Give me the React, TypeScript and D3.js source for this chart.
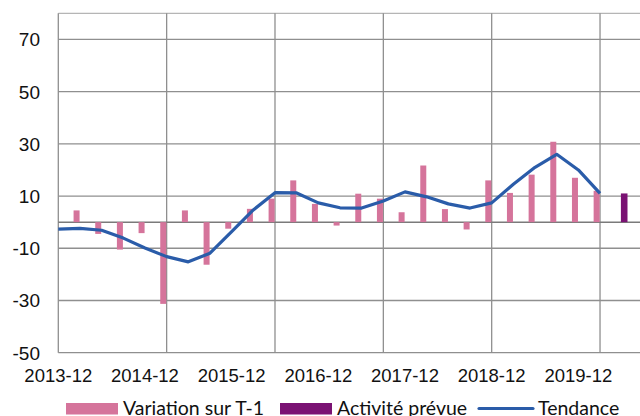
import React from "react";
import * as d3 from "d3";

const categories = [
  "2013-12", "2014-03", "2014-06", "2014-09", "2014-12", "2015-03", "2015-06", "2015-09", "2015-12", "2016-03",
  "2016-06", "2016-09", "2016-12", "2017-03", "2017-06", "2017-09", "2017-12", "2018-03", "2018-06", "2018-09",
  "2018-12", "2019-03", "2019-06", "2019-09", "2019-12", "2020-03", "2020-06",
];
const variation: (number | null)[] = [
  null, 4.5, -4.5, -10.5, -4.2, -31.3, 4.5, -16.3, -2.5, 5.1,
  9, 16, 7, -1.3, 10.9, 9, 3.8, 21.7, 5, -2.8,
  16, 11.2, 18.2, 30.8, 17, 12, null,
];
const activite: (number | null)[] = [
  null, null, null, null, null, null, null, null, null, null,
  null, null, null, null, null, null, null, null, null, null,
  null, null, null, null, null, null, 11,
];
const tendance: (number | null)[] = [
  -2.7, -2.4, -3.1, -6.1, -9.9, -13.2, -15.2, -11.9, -3.6, 4.7,
  11.3, 11.2, 7.4, 5.5, 5.4, 8.1, 11.6, 9.7, 7, 5.4,
  7.4, 14.5, 21, 26, 20, 11, null,
];
const tickLabels = ["2013-12", "2014-12", "2015-12", "2016-12", "2017-12", "2018-12", "2019-12"];
const yTicks = [70, 50, 30, 10, -10, -30, -50];
const legendNames = ["Variation sur T-1", "Activité prévue", "Tendance"];

const PINK = "#d5749b";
const PURPLE = "#7a1273";
const BLUE = "#2a5ca9";
const GRID = "#8f8f8f";
const FONT = "'Liberation Sans', Arial, sans-serif";
const LFONT = "Lato, 'Liberation Sans', sans-serif";

export default function App() {
  const W = 640, H = 416;
  const left = 58.3, top = 13.3, bottom = 352.7;
  const idx = categories.map((_, i) => i);
  const x = d3.scaleLinear().domain([0, 26]).range([58.3, 621.7]);
  const y = d3.scaleLinear().domain([-50, 80]).range([bottom, top]);
  const line = d3
    .line<number>()
    .defined((i) => tendance[i] != null)
    .x((i) => x(i))
    .y((i) => y(tendance[i] as number));

  const gridVals = [80, 70, 50, 30, 10, -10, -30, -50];
  // vertical gridlines every 5 categories (extending past right edge)
  const vGrid = [0, 5, 10, 15, 20, 25, 30];

  return (
    <svg width={W} height={H} style={{ position: "absolute", left: 0, top: 0, background: "#fff" }}>
      {gridVals.map((v) => (
        <line key={"h" + v} x1={left} x2={W} y1={y(v)} y2={y(v)} stroke={v === 80 ? "#b5b5b5" : GRID} strokeWidth={1.3} />
      ))}
      {vGrid.map((i) => (
        <line key={"v" + i} x1={x(i)} x2={x(i)} y1={top} y2={bottom} stroke={GRID} strokeWidth={1.3} />
      ))}
      <line x1={left} x2={W} y1={y(0)} y2={y(0)} stroke="#7a7a7a" strokeWidth={1.5} />
      {idx.map((i) =>
        variation[i] == null ? null : (
          <rect
            key={"b" + i}
            x={x(i) - 6.4}
            width={6}
            y={Math.min(y(0), y(variation[i] as number))}
            height={Math.abs(y(variation[i] as number) - y(0))}
            fill={PINK}
          />
        )
      )}
      {idx.map((i) =>
        activite[i] == null ? null : (
          <rect
            key={"a" + i}
            x={x(i) - 0.8}
            width={6.6}
            y={Math.min(y(0), y(activite[i] as number))}
            height={Math.abs(y(activite[i] as number) - y(0))}
            fill={PURPLE}
          />
        )
      )}
      <path d={line(idx) || ""} fill="none" stroke={BLUE} strokeWidth={3.2} strokeLinejoin="round" />
      {yTicks.map((v) => (
        <text key={"yt" + v} x={40} y={y(v) + 7} textAnchor="end" fontFamily={FONT} fontSize={19} fill="#111">
          {v}
        </text>
      ))}
      {tickLabels.map((t) => (
        <text key={"xt" + t} x={x(categories.indexOf(t))} y={381.5} textAnchor="middle" fontFamily={FONT} fontSize={18.5} fill="#111">
          {t}
        </text>
      ))}
      <rect x={66} y={403} width={52} height={11.5} fill={PINK} />
      <text x={123} y={415} fontFamily={LFONT} fontSize={19.5} fill="#111">{legendNames[0]}</text>
      <rect x={280} y={403} width={52} height={11.5} fill={PURPLE} />
      <text x={337} y={415} fontFamily={LFONT} fontSize={19.5} fill="#111">{legendNames[1]}</text>
      <line x1={479} x2={533} y1={408.5} y2={408.5} stroke={BLUE} strokeWidth={3.2} strokeLinecap="round" />
      <text x={538} y={415} fontFamily={LFONT} fontSize={19.5} fill="#111">{legendNames[2]}</text>
    </svg>
  );
}
